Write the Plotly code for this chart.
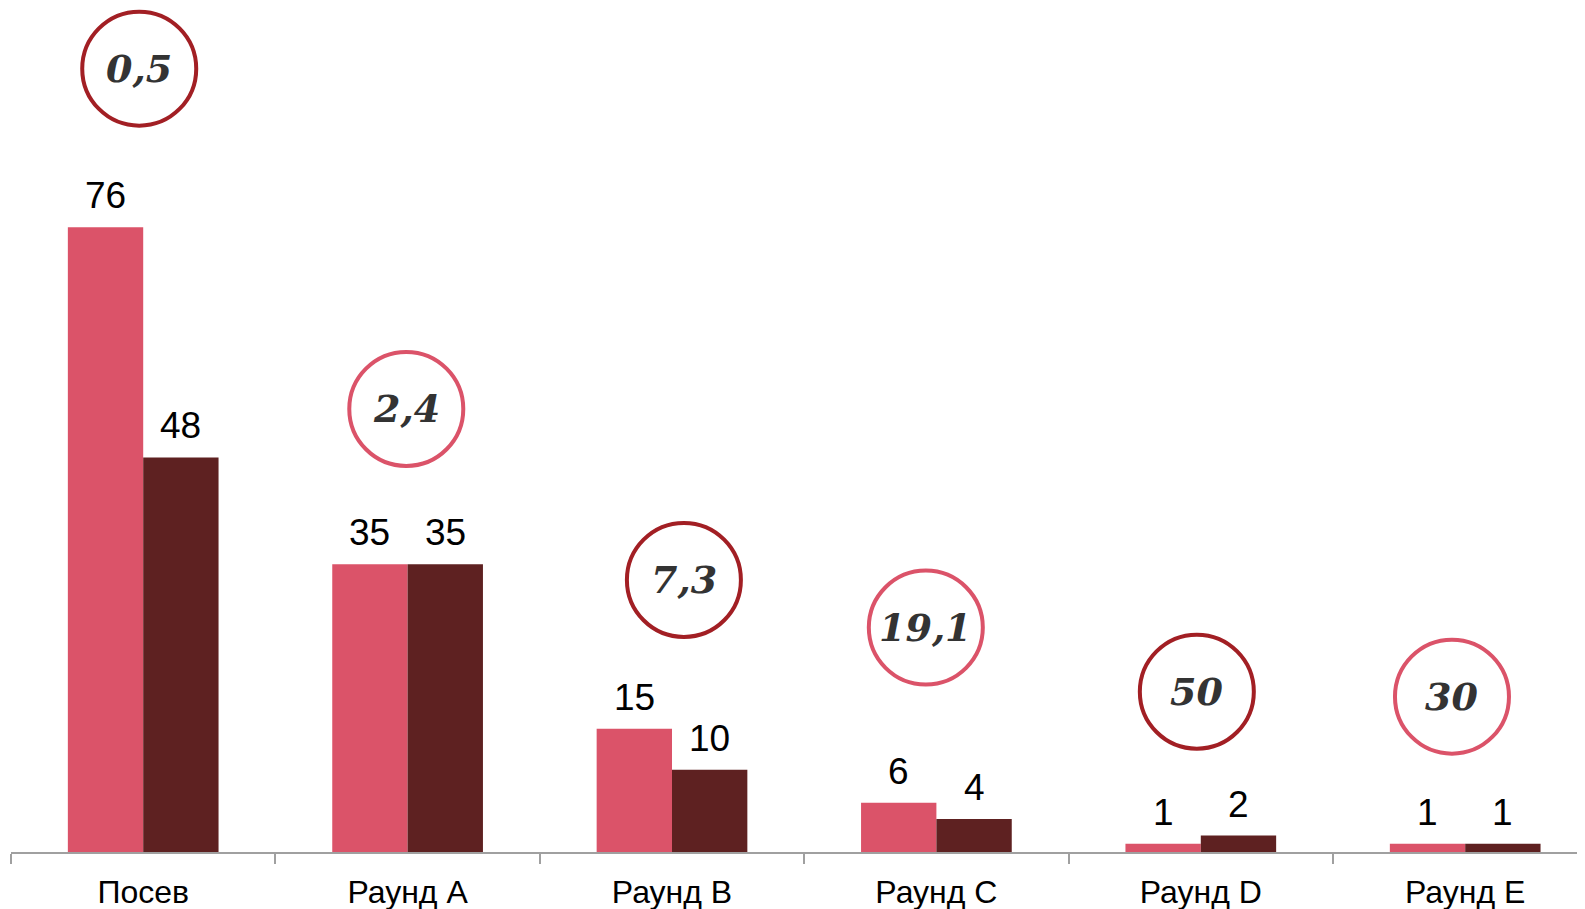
import plotly.graph_objects as go

categories = ["Посев", "Раунд A", "Раунд B", "Раунд C", "Раунд D", "Раунд E"]
series_a = [76, 35, 15, 6, 1, 1]
series_b = [48, 35, 10, 4, 2, 1]
circle_labels = ["0,5", "2,4", "7,3", "19,1", "50", "30"]

# layout constants (positions / styles)
PX_PER_UNIT = 8.22
PLOT_H = 844
circle_y = [95.3, 53.9, 33.1, 27.3, 19.5, 18.9]
circle_dx = [-0.015, -0.005, 0.045, -0.04, -0.015, -0.05]
circle_colors = ["#A21F24", "#DB5369", "#A21F24", "#DB5369", "#A21F24", "#DB5369"]
PINK = "#DB5369"
DARK = "#5E2121"
BARGAP = 0.43
OFF = (1 - BARGAP) / 4
W, H = 1585, 909
L = 3
CAT_W = 264.4
x_max = -0.5 + (W - L) / CAT_W

fig = go.Figure()
fig.add_trace(go.Bar(x=categories, y=series_a, marker=dict(color=PINK, line=dict(width=0)),
                     name="A", showlegend=False, hoverinfo="skip"))
fig.add_trace(go.Bar(x=categories, y=series_b, marker=dict(color=DARK, line=dict(width=0)),
                     name="B", showlegend=False, hoverinfo="skip"))

annotations = []
for i, (va, vb) in enumerate(zip(series_a, series_b)):
    for v, dx in ((va, -OFF), (vb, OFF)):
        annotations.append(dict(x=i + dx, y=v, xref="x", yref="y", text=str(v), showarrow=False,
                                yanchor="bottom", yshift=9,
                                font=dict(family="Liberation Sans, Arial", size=37, color="#000")))

shapes = []
for i, lab in enumerate(circle_labels):
    cx = i + circle_dx[i]
    shapes.append(dict(type="circle", xref="x", yref="y", xsizemode="pixel", ysizemode="pixel",
                       xanchor=cx, yanchor=circle_y[i], x0=-57, x1=57, y0=-57, y1=57,
                       line=dict(color=circle_colors[i], width=4), fillcolor="white", layer="above"))
    annotations.append(dict(x=cx, y=circle_y[i], xref="x", yref="y", text="<b><i>" + lab + "</i></b>",
                            showarrow=False, xanchor="center", yanchor="middle",
                            font=dict(family="DejaVu Serif", size=38, color="#333333")))

fig.update_layout(
    width=W, height=H,
    margin=dict(l=L, r=0, t=0, b=H - PLOT_H),
    paper_bgcolor="white", plot_bgcolor="white",
    barmode="group", bargap=BARGAP, bargroupgap=0,
    shapes=shapes, annotations=annotations,
    xaxis=dict(type="category", range=[-0.5, x_max], tickson="boundaries", ticks="outside",
               ticklen=10, tickwidth=2, tickcolor="#A0A0A0", showline=True, linecolor="#A0A0A0",
               linewidth=2, showgrid=False, zeroline=False, ticklabelstandoff=11,
               tickfont=dict(family="Liberation Sans, Arial", size=32, color="#000")),
    yaxis=dict(range=[0, PLOT_H / PX_PER_UNIT], visible=False, showgrid=False, zeroline=False),
)

fig.write_html("out.html")
